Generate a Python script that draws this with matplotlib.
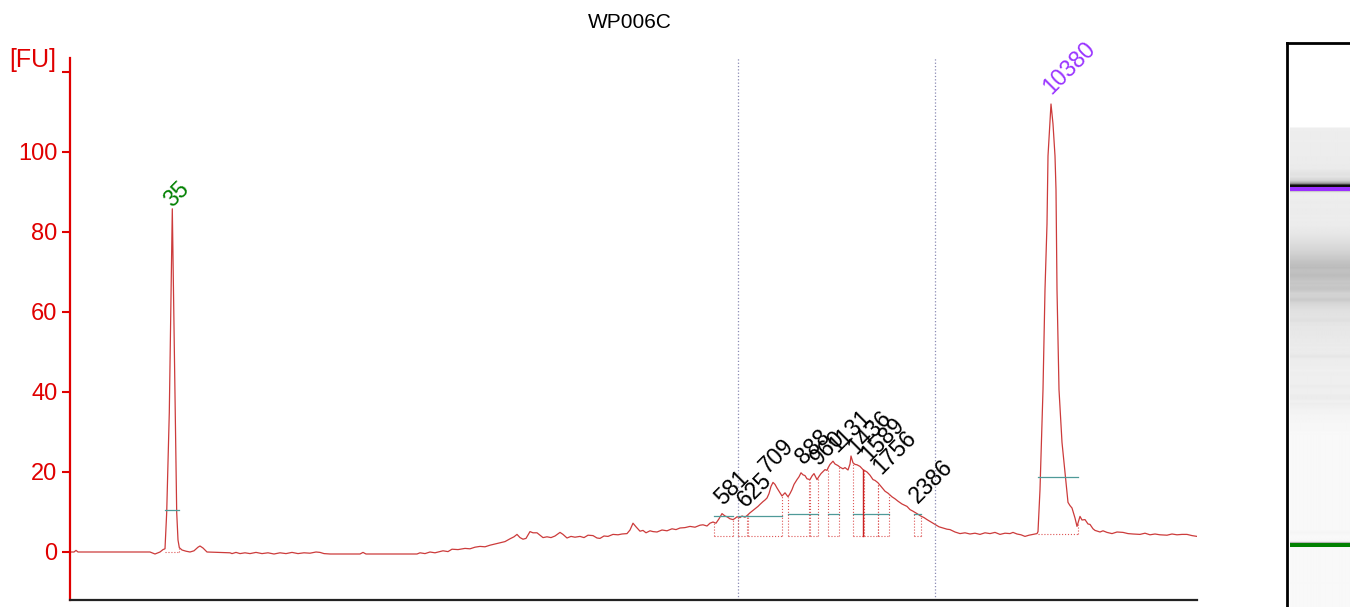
import matplotlib
matplotlib.use('Agg')
import matplotlib.pyplot as plt
import numpy as np

plt.rcParams['font.family'] = ['Liberation Sans', 'DejaVu Sans']

sample = 'WP006C'

# electropherogram trace: migration position, fluorescence [FU]
trace_x = [70, 74, 76, 78, 150, 155, 160, 163, 165, 166.7, 169.3, 172.3, 174.3, 176.7, 178, 179.3,
           182, 186, 190, 194, 198, 200, 203, 207,
           230, 232, 236, 240, 245, 250, 256, 262, 268, 274, 280, 286, 292, 298, 304, 310, 316, 320,
           324, 330, 360, 363, 366, 417, 420, 425, 430, 435, 443, 448,
           452, 458, 465, 470, 475, 480, 485, 490, 495, 500, 505, 510, 514, 517, 520, 523, 526, 530,
           533, 537, 540, 543, 547, 551, 555, 560, 563, 567, 571, 575, 580, 584, 588, 593, 597, 600,
           604, 608, 613, 618, 622, 627, 630, 633, 636, 640, 643, 646, 650, 653, 657, 662, 667, 672,
           676, 680, 685, 690, 695, 700, 703, 707, 710, 713,
           716, 719, 722, 725, 727, 730, 733, 735, 737, 740, 742, 745, 747, 750, 752, 755, 758, 760,
           763, 765, 767, 769, 771, 773, 775, 777, 779, 782, 785, 788, 790, 792, 794, 797, 799, 801,
           803, 805, 807, 810, 812, 814, 816, 817, 819, 821, 823, 825, 827, 828, 830, 833, 835, 838,
           840, 843, 845, 848, 850, 851, 853, 855, 857, 860, 863, 865, 867, 870, 873, 875, 878, 881,
           885, 888, 892, 895, 898, 902, 907, 910, 913, 917, 920, 924, 927, 931, 935, 939, 943, 947, 950,
           955, 960, 965, 970, 975, 980, 985, 990, 995, 1000, 1005, 1010, 1013, 1017, 1021, 1025,
           1029, 1033, 1037, 1038, 1040, 1043, 1045, 1047, 1048, 1050, 1051, 1053, 1055, 1056,
           1057, 1059, 1062, 1065, 1068, 1070, 1072, 1075, 1077, 1080, 1082, 1085, 1088, 1090,
           1093, 1095, 1100, 1103, 1107, 1112, 1117, 1123, 1128, 1133, 1140, 1145, 1150, 1155,
           1160, 1167, 1172, 1177, 1182, 1187, 1192, 1197]
trace_fu = [0, 0, 0.4, 0, 0, -0.5, 0, 0.6, 0.8, 9.9, 34.9, 85.8, 51, 9.9, 3, 1.1,
            0.5, 0.2, 0, 0.3, 1.2, 1.5, 1.0, 0,
            -0.2, -0.4, -0.1, -0.4, -0.2, -0.4, -0.1, -0.4, -0.2, -0.5, -0.2, -0.4, -0.1, -0.4, -0.2,
            -0.3, 0.0, -0.1, -0.4, -0.5, -0.5, -0.1, -0.5, -0.5, -0.2, -0.4, 0.0, -0.2, 0.3, 0.1,
            0.7, 0.6, 0.9, 0.8, 1.2, 1.4, 1.3, 1.7, 2.0, 2.3, 2.6, 3.3, 3.8, 4.4, 3.6, 3.2, 3.4, 5.1,
            4.8, 4.8, 4.2, 3.6, 3.8, 3.6, 4.0, 4.9, 4.4, 3.5, 3.9, 3.7, 3.9, 3.6, 4.2, 4.1, 3.5, 3.4,
            4.0, 3.9, 4.4, 4.3, 4.5, 4.6, 5.5, 7.2, 6.3, 5.2, 5.4, 4.8, 5.3, 5.1, 5.0, 5.5, 5.3, 5.8,
            5.6, 6.0, 6.1, 6.4, 6.2, 6.7, 6.8, 6.5, 7.2, 7.5,
            7.2, 8.3, 9.6, 9.0, 8.8, 8.3, 8.1, 8.4, 8.8, 8.6, 9.0, 8.7, 9.1, 9.8, 10.2, 10.8, 11.4, 11.9,
            12.6, 13.0, 13.5, 14.6, 16.4, 17.4, 16.9, 16.0, 15.2, 14.0, 14.8, 13.8, 14.6, 15.6, 16.9,
            18.1, 18.8, 19.8, 19.3, 19.1, 18.3, 18.1, 19.0, 19.6, 18.6, 18.1, 18.9, 19.6, 20.1, 20.6,
            20.4, 21.0, 21.9, 22.7, 22.0, 21.6, 21.2, 20.8, 21.1, 20.5, 22.0, 24.0, 22.3, 21.9, 21.8,
            21.4, 20.6, 20.3, 20.0, 19.2, 18.1, 17.9, 17.3, 16.4, 15.2, 14.7, 13.8, 13.3, 12.7, 12.0,
            11.4, 10.6, 10.2, 9.6, 9.1, 8.6, 8.1, 7.5, 6.9, 6.3, 6.0, 5.7, 5.6,
            5.0, 4.6, 4.8, 4.5, 4.7, 4.4, 4.8, 4.6, 4.9, 4.4, 4.7, 4.6, 4.9, 4.5, 4.3, 3.9,
            4.2, 4.4, 4.6, 5.1, 15.6, 40.6, 65.6, 82, 99, 108, 112, 107, 99, 90.6,
            65.6, 40.6, 27.4, 19.9, 12.4, 11.6, 11.0, 8.5, 6.4, 8.9, 8.0, 8.1, 7.0, 6.9,
            5.8, 5.4, 5.0, 5.3, 4.9, 4.6, 5.0, 4.9, 4.6, 4.5, 4.4, 4.7, 4.3, 4.5,
            4.3, 4.2, 4.5, 4.3, 4.4, 4.4, 4.1, 3.9]

# ladder markers (lower / upper)
marker_names = ['35', '10380']
marker_x = [172.3, 1051]
marker_start = [165, 1038]
marker_end = [179, 1078]
marker_base = [0.0, 4.6]
marker_level = [10.6, 18.8]

# called peaks in the smear region (apex position, window, half-height level)
peak_names = ['581', '625', '709', '888', '960', '1131', '1436', '1589', '1756', '2386']
peak_x = [723, 746, 768, 804, 819, 837, 856, 869, 881, 918]
peak_start = [714, 738, 748, 788, 810, 828, 853, 864, 878, 914]
peak_end = [733, 747, 782, 809, 818, 839, 863, 878, 889, 921]
peak_level = [9.1, 9.1, 9.1, 9.5, 9.5, 9.5, 9.5, 9.5, 9.5, 9.5]
peak_base = 4.0
selected_edge = [863]

# region of interest
region = [738, 935]

yticks = [0, 20, 40, 60, 80, 100, 120]
ytick_labels = ['0', '20', '40', '60', '80', '100', '']

RED = '#e00000'
TRACE = '#cc3b3b'
BOX = '#dd5555'
TEAL = '#4f9a98'
W, H = 1350, 607

fig = plt.figure(figsize=(13.5, 6.07), dpi=100)
ax = fig.add_axes([70 / W, 1 - 600 / H, 1127 / W, 542 / H])

tx = np.array(trace_x)
ty = np.array(trace_fu)


def window_top(s, e):
    xs = np.linspace(s, e, 50)
    return np.interp(xs, tx, ty).max()


ax.plot(tx, ty, color=TRACE, lw=0.9)

for r in region:
    ax.axvline(r, color='#8a8ab4', ls=':', lw=0.9)

# markers
marker_cols = ['#008000', '#9933ff']
for i in range(len(marker_names)):
    s, e, b = marker_start[i], marker_end[i], marker_base[i]
    ax.plot([s, e], [b, b], ls=':', color=BOX, lw=0.8)
    ax.plot([e, e], [b, np.interp(e, tx, ty)], ls=':', color=BOX, lw=0.8)
    ax.plot([s, e], [marker_level[i], marker_level[i]], color=TEAL, lw=0.9)
    ax.text(marker_x[i], window_top(s, e) + 2.5, marker_names[i], rotation=45,
            rotation_mode='anchor', ha='left', va='baseline', fontsize=16.5, color=marker_cols[i])

# smear peaks: dotted windows, half-height lines, labels
for i in range(len(peak_names)):
    s, e = peak_start[i], peak_end[i]
    ax.plot([s, e], [peak_base, peak_base], ls=':', color=BOX, lw=0.8)
    ax.plot([s, s], [peak_base, np.interp(s, tx, ty)], ls=':', color=BOX, lw=0.8)
    ax.plot([e, e], [peak_base, np.interp(e, tx, ty)], ls=':', color=BOX, lw=0.8)
    ax.plot([s, e], [peak_level[i], peak_level[i]], color=TEAL, lw=0.9)
    ax.text(peak_x[i], window_top(s, e) + 2, peak_names[i], rotation=45,
            rotation_mode='anchor', ha='left', va='baseline', fontsize=16.5, color='black')
for x in selected_edge:
    ax.plot([x, x], [peak_base, np.interp(x, tx, ty)], color='#cc2222', lw=1.0)

ax.set_xlim(70, 1197)
ax.set_ylim(-12, 123.5)
ax.set_yticks(yticks)
ax.set_yticklabels(ytick_labels)
ax.set_xticks([])
ax.tick_params(axis='y', colors=RED, labelsize=17, length=6, width=1.5, pad=3)
ax.spines['left'].set_color(RED)
ax.spines['left'].set_linewidth(1.6)
ax.spines['bottom'].set_color('#222222')
ax.spines['bottom'].set_linewidth(1.6)
ax.spines['top'].set_visible(False)
ax.spines['right'].set_visible(False)

fig.text(630 / W, 1 - 22 / H, sample, ha='center', va='center', fontsize=15)
fig.text(33 / W, 1 - 60 / H, '[FU]', ha='center', va='center', fontsize=18, color=RED)

# gel lane built from the same trace
gx = fig.add_axes([1287 / W, 0, 0.07, (H - 43) / H])
k = (544 - 187) / (marker_x[1] - marker_x[0])
rows = np.arange(43, H + 1)
pos = marker_x[0] + (544 - rows) / k
fu = np.interp(pos, tx, ty, left=0, right=np.nan)
shade = np.clip(0.975 - 0.0105 * np.clip(fu, 0, None), 0.05, 1)
shade[np.isnan(fu)] = 1.0
img = np.repeat(shade[:, None], 4, axis=1)
gx.imshow(img, cmap='gray', vmin=0, vmax=1, aspect='auto', interpolation='bilinear',
          extent=[1290, 1290 + 0.07 * W, H + 0.5, 42.5])
gx.axhspan(186.5, 191, xmin=3 / (0.07 * W), color='#9b30ff', lw=0)
gx.axhspan(542.5, 546.5, xmin=3 / (0.07 * W), color='#008000', lw=0)
gx.set_xlim(1287, 1287 + 0.07 * W)
gx.set_ylim(H, 43)
gx.set_xticks([])
gx.set_yticks([])
gx.spines['right'].set_visible(False)
gx.spines['bottom'].set_visible(False)
gx.spines['left'].set_linewidth(2)
gx.spines['top'].set_linewidth(2)

fig.savefig('out.png', dpi=100)
